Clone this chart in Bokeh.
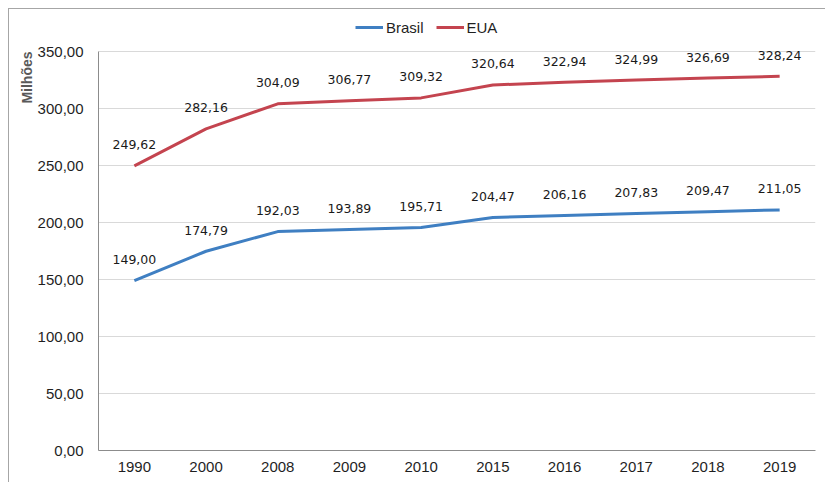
from bokeh.plotting import figure
from bokeh.models import (FactorRange, Range1d, FixedTicker, CustomJSTickFormatter,
                          Legend, LegendItem, Title, ColumnDataSource)
from bokeh.core.properties import value
from bokeh.embed import file_html
from bokeh.resources import INLINE

years = ["1990", "2000", "2008", "2009", "2010", "2015", "2016", "2017", "2018", "2019"]
brasil = [149.00, 174.79, 192.03, 193.89, 195.71, 204.47, 206.16, 207.83, 209.47, 211.05]
eua = [249.62, 282.16, 304.09, 306.77, 309.32, 320.64, 322.94, 324.99, 326.69, 328.24]
y_ticks = [0, 50, 100, 150, 200, 250, 300, 350]

BLUE = "#3f7fc2"
RED = "#c4444f"

def fmt(v):
    return f"{v:.2f}".replace(".", ",")

src_b = ColumnDataSource(dict(x=years, y=brasil, t=[fmt(v) for v in brasil]))
src_e = ColumnDataSource(dict(x=years, y=eua, t=[fmt(v) for v in eua]))

p = figure(width=817, height=474, output_backend="svg", toolbar_location=None,
           x_range=FactorRange(factors=years), y_range=Range1d(0, 382.46),
           min_border_left=89, min_border_right=11, min_border_top=5, min_border_bottom=33)
p.margin = (8, 0, 0, 8)
p.styles = {"border-top": "1px solid #a6a6a6", "border-left": "1px solid #a6a6a6"}
p.outline_line_color = None
p.background_fill_color = "white"
p.border_fill_color = "white"

rb = p.line("x", "y", source=src_b, line_color=BLUE, line_width=3)
re_ = p.line("x", "y", source=src_e, line_color=RED, line_width=3)

for src in (src_b, src_e):
    p.text("x", "y", text="t", source=src, text_align="center", text_baseline="middle",
           y_offset=-21, text_font=value("DejaVu Sans"), text_font_size="12.5px",
           text_color="#1a1a1a")

# axes
p.xgrid.grid_line_color = None
p.ygrid.ticker = FixedTicker(ticks=y_ticks)
p.ygrid.grid_line_color = "#d9d9d9"
p.ygrid.grid_line_width = 1

p.yaxis.ticker = FixedTicker(ticks=y_ticks)
p.yaxis.formatter = CustomJSTickFormatter(code="return tick.toFixed(2).replace('.', ',');")
p.yaxis.bounds = (0, 350)
for ax in (p.xaxis, p.yaxis):
    ax.axis_line_color = "#8c8c8c"
    ax.axis_line_width = 1
    ax.major_tick_line_color = None
    ax.minor_tick_line_color = None
    ax.major_tick_out = 0
    ax.major_tick_in = 0
    ax.major_label_text_font = "Liberation Sans"
    ax.major_label_text_font_size = "15px"
    ax.major_label_text_color = "#1f1f1f"
p.yaxis.major_label_standoff = 15
p.xaxis.major_label_standoff = 11

p.add_layout(Title(text="Milhões", align="right", offset=37, standoff=0,
                   text_font="Liberation Sans", text_font_size="14px",
                   text_font_style="bold", text_color="#595959"), "left")

legend = Legend(items=[LegendItem(label="Brasil", renderers=[rb]),
                       LegendItem(label="EUA", renderers=[re_])],
                orientation="horizontal", location=(257, 413),
                glyph_width=28, glyph_height=20, label_standoff=3, spacing=12,
                padding=0, margin=0, border_line_color=None, background_fill_alpha=0,
                label_text_font="Liberation Sans", label_text_font_size="15px",
                label_text_color="#1f1f1f")
p.add_layout(legend)

open("out.html", "w").write(file_html(p, INLINE))
